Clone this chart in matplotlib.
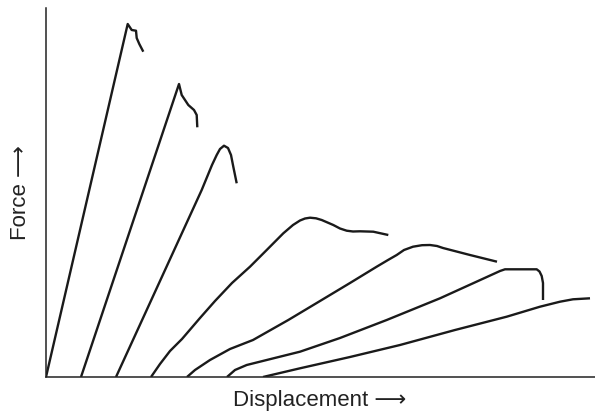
from matplotlib import pyplot as plt

# displacement / force readings for each specimen (arbitrary units)
x1 = [0, 81.7, 85.7, 90, 90.7, 93.3, 97.3]
y1 = [0, 353, 347, 346.3, 339, 333, 325.3]

x2 = [35, 133, 135.7, 142.3, 148, 150.7, 151.3]
y2 = [0, 293, 282, 272, 267, 262, 249.7]

x3 = [70, 155.7, 166, 170.7, 174, 178, 182, 185, 187.3, 190.7]
y3 = [0, 187, 212, 222, 228, 231.3, 229, 222, 210.3, 193.7]

x4 = [105, 114, 124, 136, 154, 169, 186, 204, 220.7, 237.3, 247, 254, 259, 264, 270, 275.7, 287.3, 294, 300.7,
      307, 314, 327.3, 342.3]
y4 = [0, 13, 26, 38, 59, 76, 94, 110.3, 127, 143.7, 152, 156.5, 158.5, 159.3, 158.7, 157, 152, 148.5, 146.3,
      145.5, 145.7, 145.3, 142]

x5 = [141, 149, 164, 184, 207, 242.3, 270.7, 304, 330.7, 342, 350.7, 358, 367, 376, 384, 391, 397, 424, 451]
y5 = [0, 7, 17, 28, 37, 57, 74, 94, 110.3, 117, 122, 127, 130.3, 131.8, 132, 131, 129, 122, 115.3]

x6 = [181, 189, 200.7, 220.7, 254, 294, 340.7, 394, 427, 454, 459, 490.7, 493.5, 495.7, 497, 497]
y6 = [0, 7, 12, 17, 25.3, 39, 57, 78.7, 93.7, 106, 107.7, 107.7, 105.5, 101, 94, 77]

x7 = [217, 234, 254, 304, 354, 409, 460.7, 494, 514, 527, 544]
y7 = [0, 4, 8.7, 20, 32, 47, 60.3, 70.3, 75.3, 77.7, 78.7]

curves = [(x1, y1), (x2, y2), (x3, y3), (x4, y4), (x5, y5), (x6, y6), (x7, y7)]

fig = plt.figure(figsize=(5.95, 4.19), dpi=100)
ax = fig.add_axes([46 / 595, 42 / 419, 549 / 595, 369 / 419])

for xs, ys in curves:
    ax.plot(xs, ys, color='#1a1a1a', linewidth=1.7, solid_joinstyle='round', solid_capstyle='butt')

ax.set_xlim(0, 549)
ax.set_ylim(0, 369)
ax.set_xticks([])
ax.set_yticks([])
ax.spines['top'].set_visible(False)
ax.spines['right'].set_visible(False)
for s in ['left', 'bottom']:
    ax.spines[s].set_linewidth(1.1)
    ax.spines[s].set_color('#222222')

fam = ['Liberation Sans', 'DejaVu Sans']
fig.text(0.537, 0.043, 'Displacement \u27f6', ha='center', va='center', fontsize=16, family=fam, color='#222222')
fig.text(0.034, 0.54, 'Force \u27f6', ha='center', va='center', rotation=90, fontsize=16, family=fam, color='#222222')

fig.savefig('out.png', dpi=100)
